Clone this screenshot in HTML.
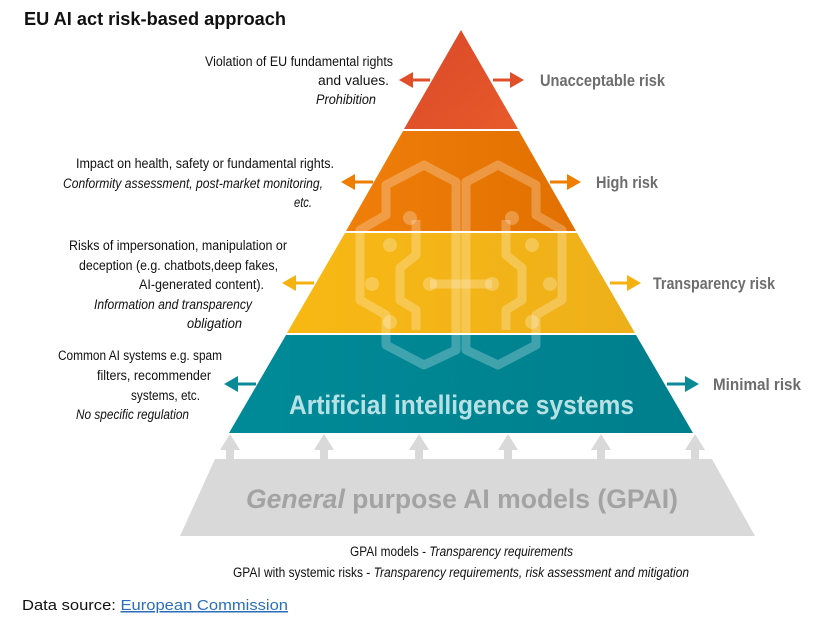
<!DOCTYPE html>
<html><head><meta charset="utf-8"><style>
html,body{margin:0;padding:0;background:#fff;}
svg{display:block;}
text{font-family:"Liberation Sans",sans-serif;}
</style></head><body>
<svg width="820" height="631" viewBox="0 0 820 631" xmlns="http://www.w3.org/2000/svg">
<defs>
<linearGradient id="gr" x1="0" y1="0" x2="1" y2="1"><stop offset="0" stop-color="#d9482a"/><stop offset="1" stop-color="#e85a2a"/></linearGradient>
<linearGradient id="go" x1="0" y1="0" x2="1" y2="0"><stop offset="0" stop-color="#ef7e0a"/><stop offset="1" stop-color="#e27000"/></linearGradient>
<linearGradient id="gy" x1="0" y1="0" x2="1" y2="0"><stop offset="0" stop-color="#f8b814"/><stop offset="1" stop-color="#eeb01a"/></linearGradient>
<linearGradient id="gt" x1="0" y1="0" x2="1" y2="0"><stop offset="0" stop-color="#008a98"/><stop offset="1" stop-color="#007f8c"/></linearGradient>
</defs>
<text x="24" y="25" font-size="18" font-weight="bold" fill="#111" textLength="262" lengthAdjust="spacingAndGlyphs">EU AI act risk-based approach</text>

<!-- GPAI -->
<polygon points="215,459 712,459 755,536 180,536" fill="#d9d9d9"/>
<g fill="#d9d9d9">
<polygon points="230,434 220,450 226,450 226,460 234,460 234,450 240,450"/>
<polygon points="324,434 314,450 320,450 320,460 328,460 328,450 334,450"/>
<polygon points="419,434 409,450 415,450 415,460 423,460 423,450 429,450"/>
<polygon points="508,434 498,450 504,450 504,460 512,460 512,450 518,450"/>
<polygon points="601,434 591,450 597,450 597,460 605,460 605,450 611,450"/>
<polygon points="695,434 685,450 691,450 691,460 699,460 699,450 705,450"/>
</g>
<text x="246" y="508" font-size="27" font-weight="bold" fill="#a3a3a3" textLength="432" lengthAdjust="spacingAndGlyphs"><tspan font-style="italic">General</tspan> purpose AI models (GPAI)</text>

<!-- pyramid -->
<polygon points="461,30 518,129 404,129" fill="url(#gr)"/>
<polygon points="403,131 519,131 576,231 346,231" fill="url(#go)"/>
<polygon points="345,233 577,233 635,333 287,333" fill="url(#gy)"/>
<polygon points="286,335 636,335 693,433 229,433" fill="url(#gt)"/>

<!-- brain overlay -->
<g fill="none" stroke="#fff" stroke-opacity="0.25" stroke-width="9" stroke-linejoin="round">
<path d="M456,182 L424,165 L386,185 L386,215 L360,230 L360,300 L386,315 L386,345 L424,365 L456,350 Z"/>
<path d="M466,182 L498,165 L536,185 L536,215 L562,230 L562,300 L536,315 L536,345 L498,365 L466,350 Z"/>
<path d="M416,220 L416,255 L400,268 L400,300 L416,310 L416,330"/>
<path d="M506,220 L506,255 L522,268 L522,300 L506,310 L506,330"/>
<path d="M430,284 L492,284"/>
</g>
<g fill="#fff" fill-opacity="0.25">
<circle cx="410" cy="218" r="7"/><circle cx="512" cy="218" r="7"/>
<circle cx="390" cy="245" r="7"/><circle cx="532" cy="245" r="7"/>
<circle cx="372" cy="284" r="7"/><circle cx="550" cy="284" r="7"/>
<circle cx="430" cy="284" r="7"/><circle cx="492" cy="284" r="7"/>
<circle cx="390" cy="322" r="7"/><circle cx="532" cy="322" r="7"/>
</g>

<text x="289" y="414" font-size="27" font-weight="bold" fill="#b8e1e5" textLength="345" lengthAdjust="spacingAndGlyphs">Artificial intelligence systems</text>

<!-- arrows -->
<g stroke-width="3">
<line x1="412" y1="80" x2="430" y2="80" stroke="#e04f2a"/><polygon points="399,80 413,72 413,88" fill="#e04f2a"/>
<line x1="493" y1="80" x2="512" y2="80" stroke="#e04f2a"/><polygon points="524,80 510,72 510,88" fill="#e04f2a"/>
<line x1="354" y1="182" x2="373" y2="182" stroke="#ef7d00"/><polygon points="341,182 355,174 355,190" fill="#ef7d00"/>
<line x1="550" y1="182" x2="569" y2="182" stroke="#ef7d00"/><polygon points="581,182 567,174 567,190" fill="#ef7d00"/>
<line x1="295" y1="283" x2="314" y2="283" stroke="#f5b10f"/><polygon points="282,283 296,275 296,291" fill="#f5b10f"/>
<line x1="610" y1="283" x2="629" y2="283" stroke="#f5b10f"/><polygon points="641,283 627,275 627,291" fill="#f5b10f"/>
<line x1="237" y1="384" x2="256" y2="384" stroke="#0a8a97"/><polygon points="224,384 238,376 238,392" fill="#0a8a97"/>
<line x1="667" y1="384" x2="686" y2="384" stroke="#0a8a97"/><polygon points="699,384 685,376 685,392" fill="#0a8a97"/>
</g>

<!-- right labels -->
<g font-size="17" font-weight="bold" fill="#6d6d6d">
<text x="540" y="86" textLength="125" lengthAdjust="spacingAndGlyphs">Unacceptable risk</text>
<text x="596" y="188" textLength="62" lengthAdjust="spacingAndGlyphs">High risk</text>
<text x="653" y="289" textLength="122" lengthAdjust="spacingAndGlyphs">Transparency risk</text>
<text x="713" y="390" textLength="88" lengthAdjust="spacingAndGlyphs">Minimal risk</text>
</g>

<!-- left labels -->
<g font-size="13.5" fill="#111">
<text x="205" y="66" textLength="188" lengthAdjust="spacingAndGlyphs">Violation of EU fundamental rights</text>
<text x="318" y="85" textLength="71" lengthAdjust="spacingAndGlyphs">and values.</text>
<text x="316" y="104" font-style="italic" textLength="60" lengthAdjust="spacingAndGlyphs">Prohibition</text>
<text x="76" y="168" textLength="258" lengthAdjust="spacingAndGlyphs">Impact on health, safety or fundamental rights.</text>
<text x="63" y="188" font-style="italic" textLength="260" lengthAdjust="spacingAndGlyphs">Conformity assessment, post-market monitoring,</text>
<text x="294" y="207" font-style="italic" textLength="18" lengthAdjust="spacingAndGlyphs">etc.</text>
<text x="69" y="250" textLength="218" lengthAdjust="spacingAndGlyphs">Risks of impersonation, manipulation or</text>
<text x="79" y="270" textLength="199" lengthAdjust="spacingAndGlyphs">deception (e.g. chatbots,deep fakes,</text>
<text x="139" y="289" textLength="125" lengthAdjust="spacingAndGlyphs">AI-generated content).</text>
<text x="94" y="309" font-style="italic" textLength="158" lengthAdjust="spacingAndGlyphs">Information and transparency</text>
<text x="187" y="328" font-style="italic" textLength="55" lengthAdjust="spacingAndGlyphs">obligation</text>
<text x="58" y="360" textLength="164" lengthAdjust="spacingAndGlyphs">Common AI systems e.g. spam</text>
<text x="97" y="380" textLength="114" lengthAdjust="spacingAndGlyphs">filters, recommender</text>
<text x="131" y="400" textLength="69" lengthAdjust="spacingAndGlyphs">systems, etc.</text>
<text x="76" y="419" font-style="italic" textLength="113" lengthAdjust="spacingAndGlyphs">No specific regulation</text>
</g>

<g font-size="13.5" fill="#111">
<text x="350" y="556" textLength="223" lengthAdjust="spacingAndGlyphs">GPAI models - <tspan font-style="italic">Transparency requirements</tspan></text>
<text x="233" y="577" textLength="456" lengthAdjust="spacingAndGlyphs">GPAI with systemic risks - <tspan font-style="italic">Transparency requirements, risk assessment and mitigation</tspan></text>
</g>

<text x="22" y="610" font-size="15" fill="#111" textLength="266" lengthAdjust="spacingAndGlyphs">Data source: <tspan fill="#2a6ebb" text-decoration="underline">European Commission</tspan></text>
</svg>
</body></html>
